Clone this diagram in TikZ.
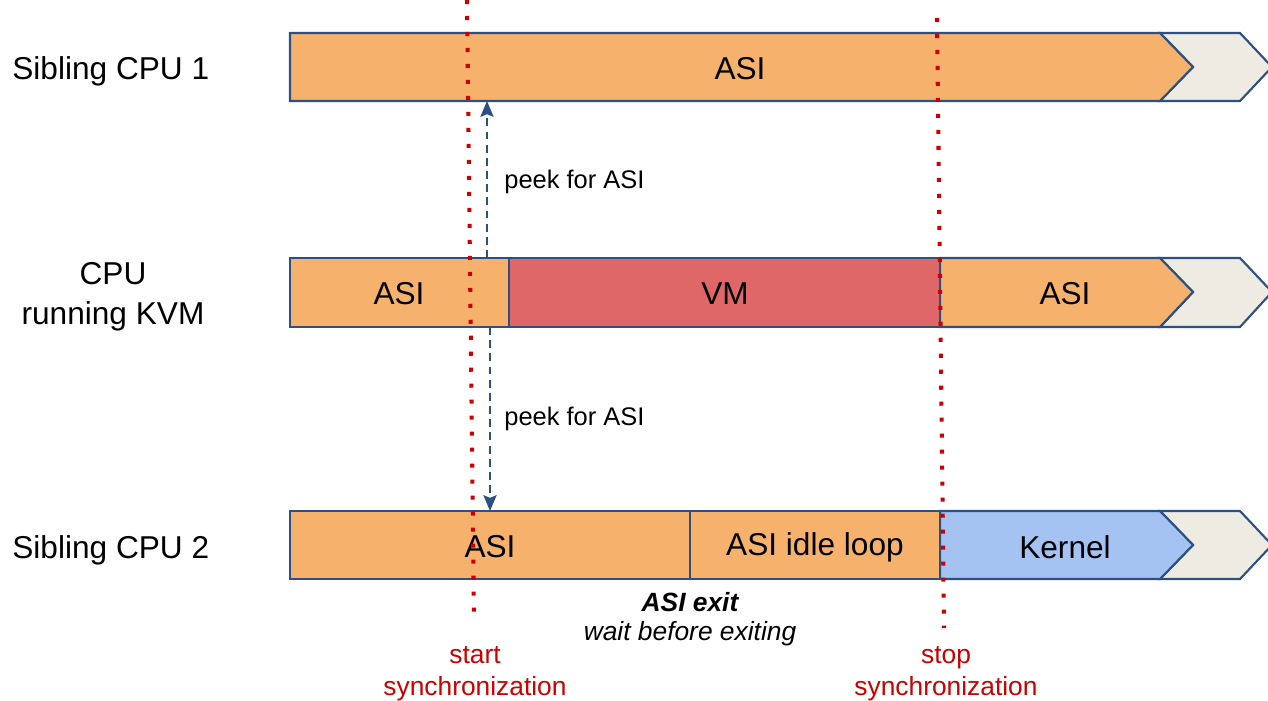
\documentclass[tikz,border=0pt]{standalone}
\usepackage{fontspec}
\setmainfont{Liberation Sans}
\usetikzlibrary{arrows.meta}
\definecolor{bord}{HTML}{2C5082}
\definecolor{asi}{HTML}{F6B16C}
\definecolor{vm}{HTML}{E06767}
\definecolor{kern}{HTML}{A5C3F2}
\definecolor{rest}{HTML}{EEECE2}
\definecolor{sync}{HTML}{CC0000}
\tikzset{
  seg/.style={draw=bord, line width=1.2pt, line join=miter},
  lbl/.style={font=\fontsize{18}{21}\selectfont, text=black, inner sep=0pt},
  rowlbl/.style={font=\fontsize{18}{23}\selectfont, align=center, inner sep=0pt},
  peek/.style={draw=bord, line width=1pt, dash pattern=on 4.5pt off 3pt, -{Stealth[length=9pt,width=7.5pt,inset=1.5pt]}},
  peeklbl/.style={font=\fontsize{14.5}{17}\selectfont, anchor=west, inner sep=0pt},
  syncline/.style={draw=sync, line width=2.3pt, dash pattern=on 2.3pt off 6.8pt},
  synclbl/.style={font=\fontsize{15}{18}\selectfont, text=sync, align=center, inner sep=0pt},
}
\begin{document}
\begin{tikzpicture}[x=0.02cm, y=-0.02cm]
\useasboundingbox[fill=white] (0,0) rectangle (1268,700);

% row 1: sibling CPU 1
\path[seg, fill=rest] (1160,33) -- (1240,33) -- (1272,67) -- (1240,101) -- (1160,101) -- (1193,67) -- cycle;
\path[seg, fill=asi] (290,33) -- (1160,33) -- (1193,67) -- (1160,101) -- (290,101) -- cycle;
\node[lbl] (r1asi) at (740,69) {ASI};
\coordinate (r1bot) at (487,101);

% row 2: CPU running KVM
\path[seg, fill=rest] (1160,258) -- (1240,258) -- (1272,292) -- (1240,327) -- (1160,327) -- (1193,292) -- cycle;
\path[seg, fill=asi] (940,258) -- (1160,258) -- (1193,292) -- (1160,327) -- (940,327) -- cycle;
\path[seg, fill=asi] (290,258) rectangle (509,327);
\path[seg, fill=vm] (509,258) rectangle (940,327);
\node[lbl] (r2asiA) at (399,294) {ASI};
\node[lbl] (r2vm) at (725,294) {VM};
\node[lbl] (r2asiB) at (1065,294) {ASI};
\coordinate (r2top) at (487,258);
\coordinate (r2bot) at (490,327);

% row 3: sibling CPU 2
\path[seg, fill=rest] (1160,511) -- (1240,511) -- (1272,545) -- (1240,579) -- (1160,579) -- (1193,545) -- cycle;
\path[seg, fill=kern] (940,511) -- (1160,511) -- (1193,545) -- (1160,579) -- (940,579) -- cycle;
\path[seg, fill=asi] (290,511) rectangle (690,579);
\path[seg, fill=asi] (690,511) rectangle (940,579);
\node[lbl] (r3asi) at (490,547) {ASI};
\node[lbl] (r3idle) at (815,547) {ASI idle loop};
\node[lbl] (r3kern) at (1065,547) {Kernel};
\coordinate (r3top) at (490,511);

% row labels
\node[rowlbl, anchor=west] (cpu1) at (12,71) {Sibling CPU 1};
\node[rowlbl] (kvm) at (113,297) {CPU\\running KVM};
\node[rowlbl, anchor=west] (cpu2) at (12,550) {Sibling CPU 2};

% synchronization window
\coordinate (startT) at (467,0);
\coordinate (startB) at (474,622);
\coordinate (stopT) at (937,18);
\coordinate (stopB) at (944,628);
\draw[syncline] (startT) -- (startB);
\draw[syncline] (stopT) -- (stopB);
\node[synclbl] (startlbl) at (475,674) {start\\synchronization};
\node[synclbl] (stoplbl) at (946,674) {stop\\synchronization};

% peeking at the siblings
\draw[peek] (r2top) -- (r1bot);
\draw[peek] (r2bot) -- (r3top);
\node[peeklbl] (peek1) at (504,182) {peek for ASI};
\node[peeklbl] (peek2) at (504,419) {peek for ASI};

% exit annotation
\node[font=\fontsize{15}{18}\selectfont\bfseries\itshape, inner sep=0pt] (exit) at (690,602) {ASI exit};
\node[font=\fontsize{15}{18}\selectfont\itshape, inner sep=0pt] (wait) at (690,634) {wait before exiting};
\end{tikzpicture}
\end{document}
